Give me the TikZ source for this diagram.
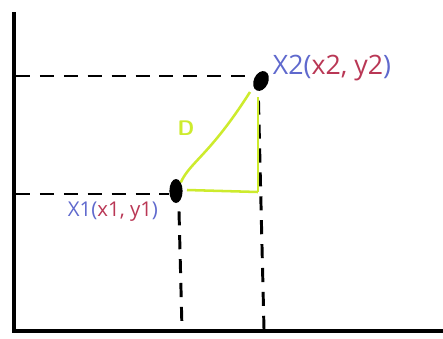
\documentclass[tikz,border=0pt]{standalone}
\usepackage{fontspec}
\setmainfont{Open Sans}
\usetikzlibrary{shapes.geometric}
\definecolor{ptblue}{RGB}{95,105,205}
\definecolor{ptred}{RGB}{185,55,85}
\definecolor{lime}{RGB}{205,235,45}
\begin{document}
\begin{tikzpicture}[
  x=0.025cm, y=-0.025cm,
  axis/.style={line width=2.6pt},
  guide/.style={line width=2.1pt, dash pattern=on 10pt off 7pt},
  dot/.style={ellipse, fill=black, inner sep=0pt},
  tri/.style={draw=lime, line width=1.8pt}
]
\useasboundingbox (0,0) rectangle (443,338);
% axes
\coordinate (top)    at (14,12);
\coordinate (origin) at (14,331);
\coordinate (right)  at (443,331);
\draw[axis] (top) -- (origin) -- (right);

% the two points
\node[dot, minimum width=0.36cm, minimum height=0.52cm, rotate=-25] (p2) at (261,81) {};
\node[dot, minimum width=0.33cm, minimum height=0.6cm] (p1) at (176,191) {};
\node[anchor=west, font=\fontsize{19}{22}\selectfont] (lab2) at (268,68)
  {{\color{ptblue}X2(}{\color{ptred}x2, y2}{\color{ptblue})}};
\node[anchor=west, font=\fontsize{14.5}{17}\selectfont] (lab1) at (63,212)
  {{\color{ptblue}X1(}{\color{ptred}x1, y1}{\color{ptblue})}};

% guide lines to the axes
\coordinate (ax2) at (16,76);
\coordinate (ax1) at (16,194);
\coordinate (bt1) at (182,329);
\coordinate (bt2) at (264,329);
\draw[guide] (ax2) -- (p2.west |- ax2);
\draw[guide] (ax1) -- (p1.west |- ax1);
\draw[guide] (p1.south) ++(3,8) -- (bt1);
\draw[guide] (p2.south) ++(2,10) -- (bt2);

% distance triangle
\coordinate (corner) at (258,192);
\draw[tri] (p1.north east) .. controls (190,162) and (210,155) .. (250,92);
\draw[tri] (258,97) -- (corner);
\draw[tri] (187,190) -- (corner);
\node[text=lime, font=\sffamily\bfseries\fontsize{15}{18}\selectfont] (dist) at (186,128) {D};
\end{tikzpicture}
\end{document}
